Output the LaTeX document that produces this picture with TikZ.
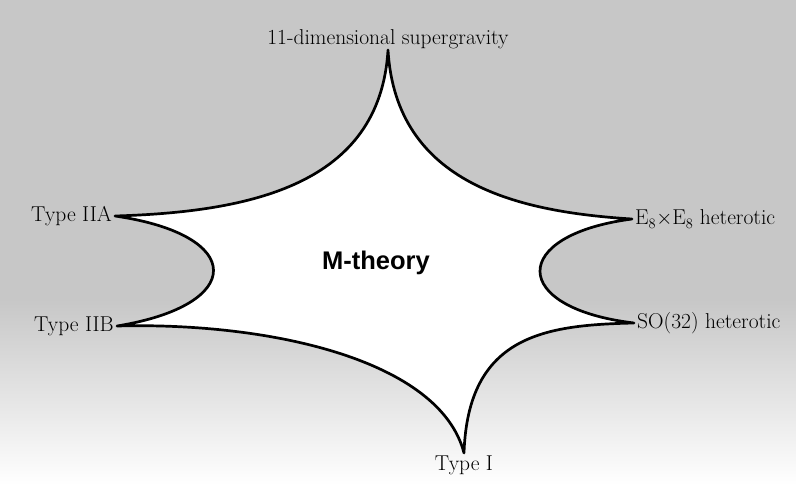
\documentclass[tikz,border=0pt]{standalone}
\usepackage{fontspec}
\newfontfamily\mfont{Liberation Sans}
\usetikzlibrary{positioning}

\tikzset{
  stringlabel/.style={font=\fontsize{21.5}{24}\selectfont, inner sep=3pt},
  edge/.style={line width=2.7pt, line join=round},
}

\begin{document}
\begin{tikzpicture}[x=1pt, y=-1pt]
\useasboundingbox (0,0) rectangle (796,485);
\fill[black!22] (0,0) rectangle (796,300);
\shade[top color=black!22, bottom color=white] (0,299) rectangle (796,485);
\coordinate (sugra) at (388,50);
\coordinate (eight) at (632,219);
\coordinate (so) at (634,323);
\coordinate (one) at (464,453);
\coordinate (iib) at (117,326);
\coordinate (iia) at (115,216);
\filldraw[edge, fill=white] (sugra)
  .. controls (396,185) and (520,212) .. (eight)
  .. controls (509,235) and (509,308) .. (so)
  .. controls (545,325) and (468,335) .. (one)
  .. controls (440,360) and (270,322) .. (iib)
  .. controls (246,305) and (246,235) .. (iia)
  .. controls (250,212) and (380,185) .. cycle;
\node[stringlabel, anchor=south] (sugratext) at ([yshift=-2pt]sugra) {11-dimensional supergravity};
\node[stringlabel, anchor=east] (iiatext) at (iia) {Type IIA};
\node[stringlabel, anchor=east] (iibtext) at (iib) {Type IIB};
\node[stringlabel, anchor=west] (eighttext) at (eight) {E$_8$$\times$E$_8$ heterotic};
\node[stringlabel, anchor=west] (sotext) at (so) {SO(32) heterotic};
\node[stringlabel, anchor=north] (onetext) at (one) {Type I};
\node[font=\mfont\bfseries\fontsize{25.5}{28}\selectfont] (mtheory) at (376,263) {M-theory};
\end{tikzpicture}
\end{document}
